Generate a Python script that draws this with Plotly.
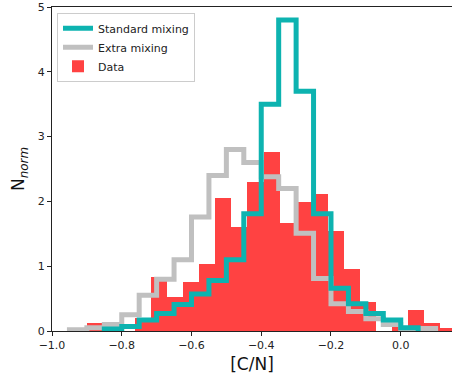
import plotly.graph_objects as go

# ---- data ----
# observed [C/N] histogram (normalised), bin start and width
data_bin_start = -0.900
data_bin_width = 0.04605
data_heights = [0.13, 0.0, 0.0, 0.20, 0.83, 0.52, 0.76, 1.03, 2.05, 1.61, 2.30, 2.76,
                1.67, 1.99, 2.12, 1.55, 0.96, 0.45, 0.0, 0.06, 0.32, 0.13, 0.05]

# model histograms (bins of 0.05)
model_bin_width = 0.05
std_start = -0.85
std_heights = [0.03, 0.07, 0.17, 0.27, 0.41, 0.57, 0.78, 1.10, 1.81, 3.50, 4.80,
               3.70, 1.81, 0.66, 0.42, 0.27, 0.17, 0.05]
extra_start = -0.95
extra_heights = [0.02, 0.05, 0.10, 0.25, 0.55, 0.80, 1.10, 1.76, 2.40, 2.80, 2.60,
                 2.38, 2.20, 1.51, 0.81, 0.42, 0.30, 0.19, 0.10, 0.04, 0.04]

x_tickvals = [-1.0, -0.8, -0.6, -0.4, -0.2, 0.0]
x_ticktext = ["\u22121.0", "\u22120.8", "\u22120.6", "\u22120.4", "\u22120.2", "0.0"]
y_tickvals = [0, 1, 2, 3, 4, 5]

# ---- derived ----
data_centers = [data_bin_start + (i + 0.5) * data_bin_width for i in range(len(data_heights))]


def step_xy(start, width, heights):
    edges = [start + i * width for i in range(len(heights) + 1)]
    xs = [edges[0]] + edges
    ys = [0] + list(heights) + [0]
    return xs, ys


std_x, std_y = step_xy(std_start, model_bin_width, std_heights)
ext_x, ext_y = step_xy(extra_start, model_bin_width, extra_heights)

RED = "#ff4242"
TEAL = "#0db3b0"
GRAY = "#c0c0c0"

fig = go.Figure()
fig.add_trace(go.Bar(x=data_centers, y=data_heights, width=data_bin_width,
                     marker=dict(color=RED, line=dict(width=0)), name="Data",
                     legendrank=3))
fig.add_trace(go.Scatter(x=ext_x, y=ext_y, mode="lines", line_shape="hv",
                         line=dict(color=GRAY, width=5), name="Extra mixing",
                         legendrank=2))
fig.add_trace(go.Scatter(x=std_x, y=std_y, mode="lines", line_shape="hv",
                         line=dict(color=TEAL, width=5), name="Standard mixing",
                         legendrank=1))

axis_font = dict(family="DejaVu Sans", size=11, color="#222222")
fig.update_layout(
    width=452, height=376,
    margin=dict(l=52, r=0, t=7, b=45),
    plot_bgcolor="white", paper_bgcolor="white",
    bargap=0,
    font=dict(family="DejaVu Sans", color="#222222"),
    showlegend=True,
    legend=dict(x=0.0125, y=0.982, xanchor="left", yanchor="top",
                bgcolor="rgba(255,255,255,0.85)", bordercolor="#cccccc", borderwidth=1,
                font=dict(family="DejaVu Sans", size=11, color="#222222"),
                tracegroupgap=0, itemwidth=30),
    xaxis=dict(range=[-1.0, 0.147], tickvals=x_tickvals, ticktext=x_ticktext,
               ticks="outside", ticklen=4, tickcolor="#222222", tickwidth=1,
               showline=True, linecolor="#222222", linewidth=1, mirror=True,
               showgrid=False, zeroline=False, tickfont=axis_font,
               title=dict(text="[C/N]", font=dict(family="DejaVu Sans", size=17, color="#111111"),
                          standoff=6)),
    yaxis=dict(range=[0, 5], tickvals=y_tickvals,
               ticks="outside", ticklen=4, tickcolor="#222222", tickwidth=1,
               showline=True, linecolor="#222222", linewidth=1,
               showgrid=False, zeroline=False, tickfont=axis_font,
               title=dict(text="N<sub><i>norm</i></sub>",
                          font=dict(family="DejaVu Sans", size=17, color="#111111"),
                          standoff=8)),
)

fig.write_html("out.html",
               config={"displayModeBar": False},
               post_script="document.body.style.margin='0px';document.body.style.overflow='hidden';")
